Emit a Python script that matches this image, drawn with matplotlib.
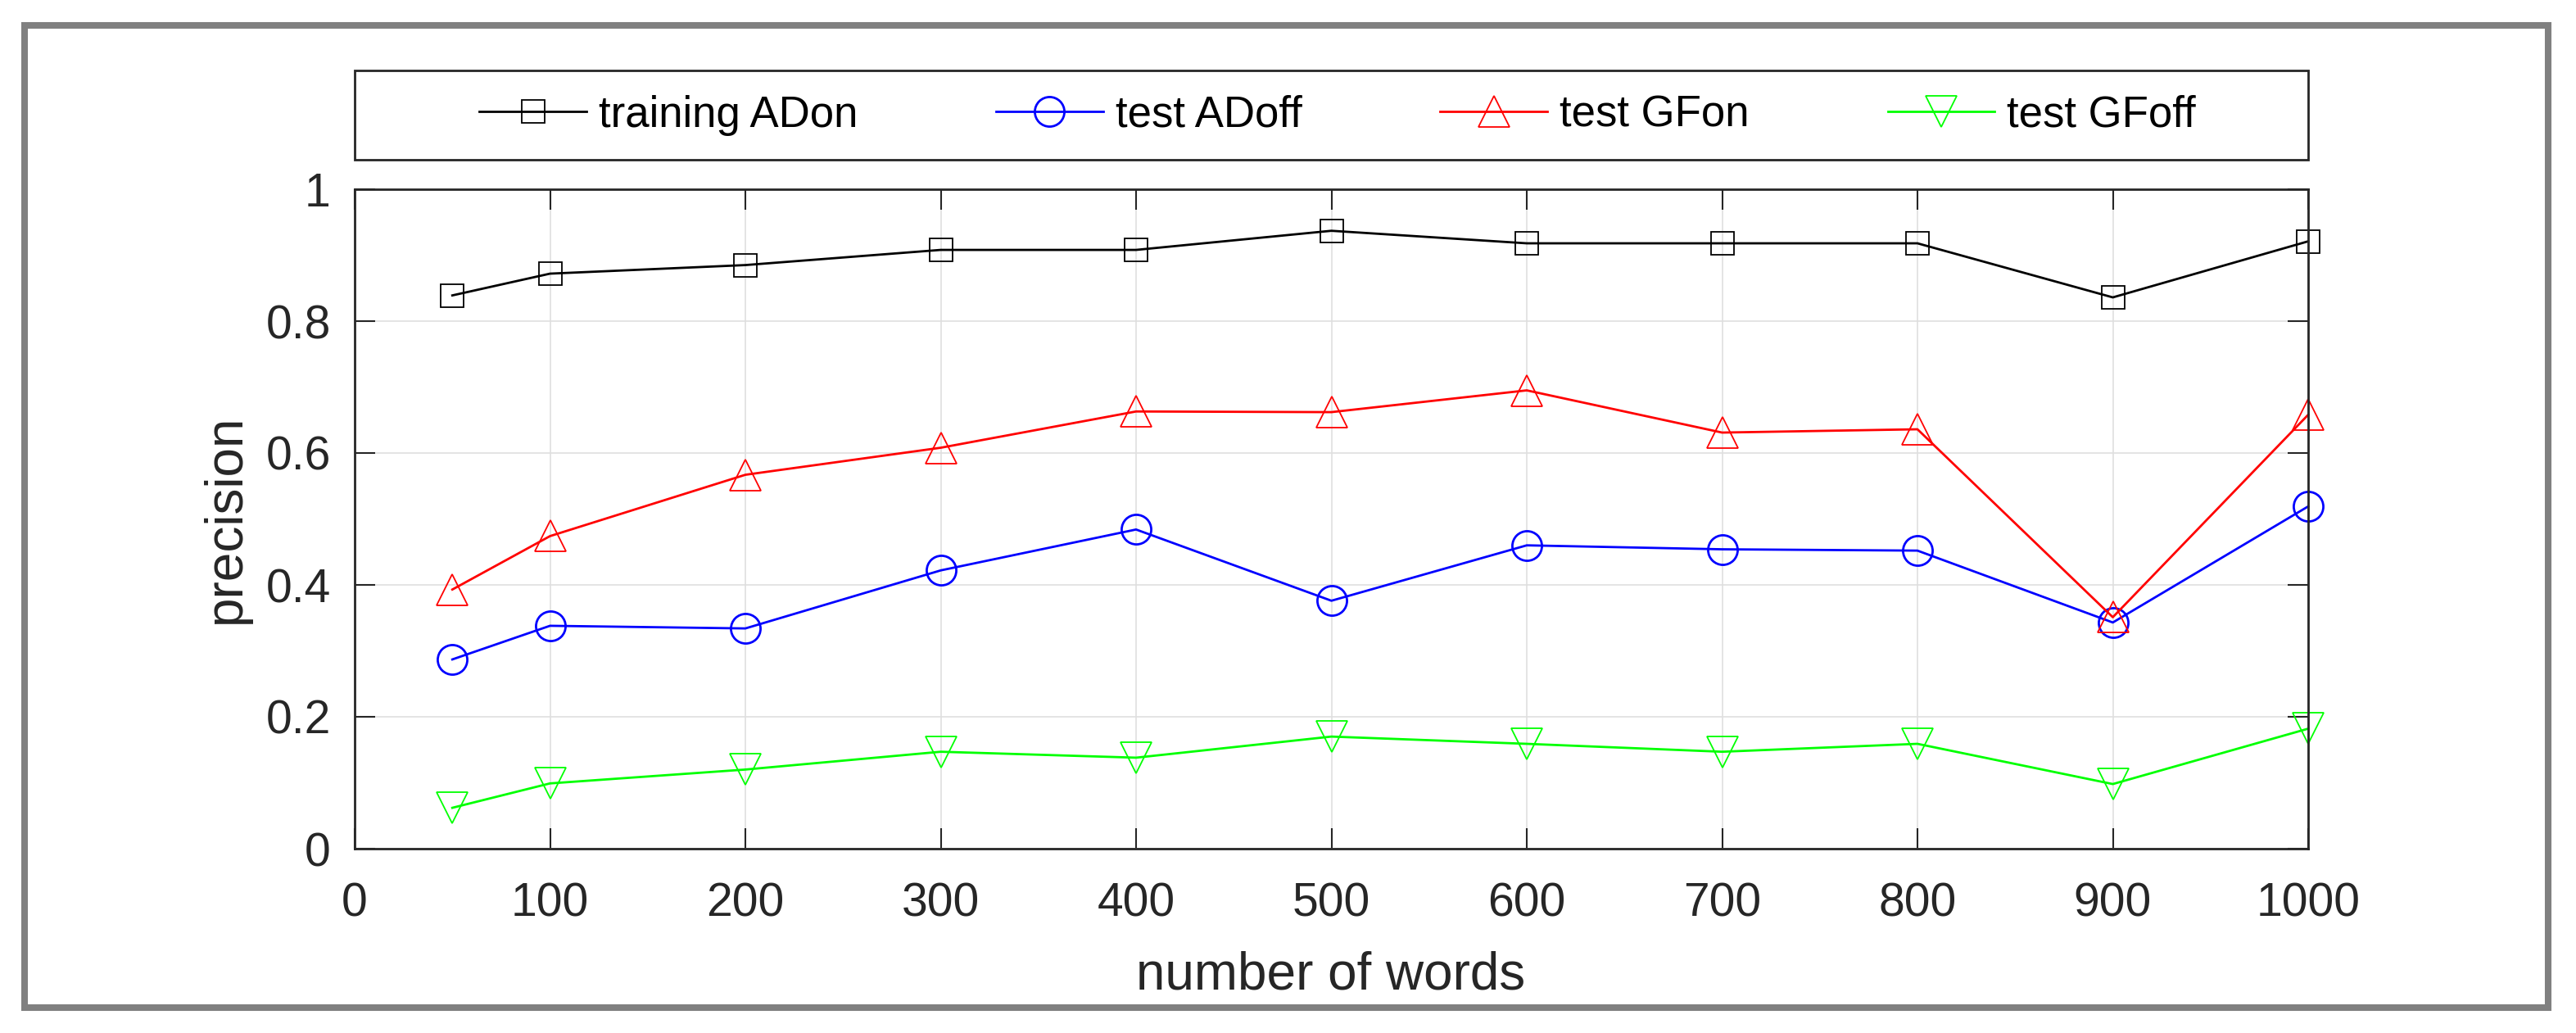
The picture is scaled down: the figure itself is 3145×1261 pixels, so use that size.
import matplotlib
matplotlib.use("Agg")
import matplotlib.pyplot as plt
from matplotlib.patches import Rectangle

plt.rcParams["font.family"] = ["Liberation Sans", "DejaVu Sans"]

# values
x_words = [50, 100, 200, 300, 400, 500, 600, 700, 800, 900, 1000]
training_adon = [0.839, 0.872, 0.885, 0.908, 0.908, 0.937, 0.918, 0.918, 0.918, 0.836, 0.921]
test_adoff = [0.287, 0.338, 0.334, 0.422, 0.484, 0.376, 0.460, 0.454, 0.452, 0.343, 0.519]
test_gfon = [0.393, 0.474, 0.567, 0.608, 0.663, 0.662, 0.695, 0.631, 0.636, 0.351, 0.658]
test_gfoff = [0.062, 0.099, 0.120, 0.147, 0.138, 0.170, 0.159, 0.147, 0.159, 0.098, 0.182]

series_names = ["training ADon", "test ADoff", "test GFon", "test GFoff"]
xticks = [0, 100, 200, 300, 400, 500, 600, 700, 800, 900, 1000]
yticks = [0, 0.2, 0.4, 0.6, 0.8, 1.0]
ytick_labels = ["0", "0.2", "0.4", "0.6", "0.8", "1"]

W, H = 3145, 1261
fig = plt.figure(figsize=(W / 100, H / 100), dpi=100)

ax_l, ax_r, ax_t, ax_b = 433, 2818, 231, 1036
ax = fig.add_axes([ax_l / W, 1 - ax_b / H, (ax_r - ax_l) / W, (ax_b - ax_t) / H])

dark = "#262626"

# matlab style: markers are not clipped at the axes edge
ax.plot(x_words, training_adon, color="black", lw=2, marker="s", ms=20,
        mfc="none", mew=1.3, label=series_names[0], clip_on=False)
ax.plot(x_words, test_adoff, color="#0000ff", lw=2, marker="o", ms=26,
        mfc="none", mew=2, label=series_names[1], clip_on=False)
ax.plot(x_words, test_gfon, color="#ff0000", lw=2, marker="^", ms=27,
        mfc="none", mew=1.3, label=series_names[2], clip_on=False)
ax.plot(x_words, test_gfoff, color="#00ff00", lw=2, marker="v", ms=27,
        mfc="none", mew=1.3, label=series_names[3], clip_on=False)

ax.set_xlim(0, 1000)
ax.set_ylim(0, 1)
ax.set_xticks(xticks)
ax.set_yticks(yticks)
ax.set_yticklabels(ytick_labels)
ax.grid(True, color="#dfdfdf", lw=1.2)
ax.set_axisbelow(True)

for s in ax.spines.values():
    s.set_color(dark)
    s.set_linewidth(2)

ax.tick_params(direction="in", length=18, width=1.5, color=dark,
               labelcolor=dark, labelsize=41, top=True, right=True)
ax.tick_params(axis="x", pad=29.5)
ax.tick_params(axis="y", pad=21)

fig.text(276 / W, 1 - 633 / H, "precision", rotation=90, ha="center",
         va="center", fontsize=46, color=dark)
fig.text(1625 / W, 1 - 1207 / H, "number of words", ha="center",
         va="baseline", fontsize=46, color=dark)

# legend box on top, same width as the axes
leg_t, leg_b = 86, 195
fig.patches.append(Rectangle((ax_l / W, 1 - leg_b / H), (ax_r - ax_l) / W,
                             (leg_b - leg_t) / H, transform=fig.transFigure,
                             fill=False, edgecolor=dark, lw=2))
ax.legend(loc="center", bbox_to_anchor=(1633 / W, 1 - 140.5 / H),
          bbox_transform=fig.transFigure, ncol=4, frameon=False,
          fontsize=38, handlelength=2.48, handletextpad=0.28,
          columnspacing=3.2, borderpad=0)

# grey outer frame
fig.patches.append(Rectangle((30 / W, 1 - 1230 / H), (3111 - 30) / W,
                             (1230 - 31) / H, transform=fig.transFigure,
                             fill=False, edgecolor="#808080", lw=5.8))

fig.savefig("out.png", dpi=100)
